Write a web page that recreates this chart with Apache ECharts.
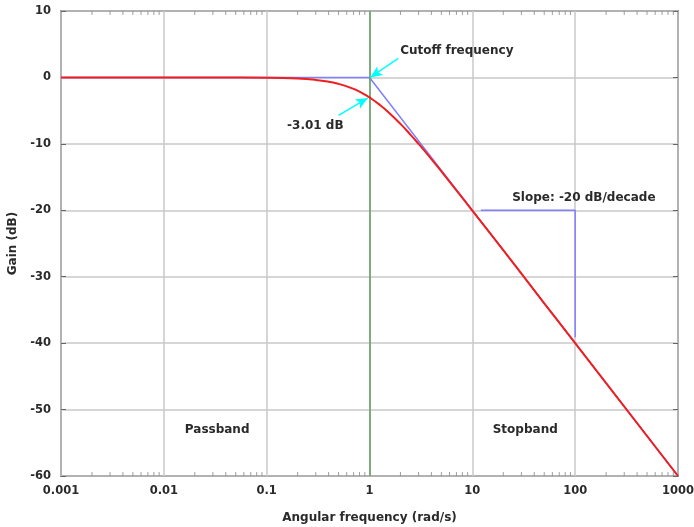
<!DOCTYPE html>
<html><head><meta charset="utf-8">
<script src="https://cdn.jsdelivr.net/npm/echarts@6/dist/echarts.min.js"></script>
<style>html,body{margin:0;padding:0;background:#fff}#c{width:694px;height:527px}</style>
</head><body><div id="c"></div>
<script>
// Frequencies (rad/s) and gain (dB)
const freq = [0.001, 0.01, 0.05, 0.1, 0.2, 0.3, 0.4, 0.5, 0.6, 0.7, 0.8, 0.9, 1, 1.25, 1.5, 2, 2.5, 3, 4, 5, 7, 10, 20, 50, 100, 1000];
const gain = [0, 0, -0.01, -0.04, -0.17, -0.37, -0.64, -0.97, -1.34, -1.73, -2.15, -2.58, -3.01, -4.09, -5.12, -6.99, -8.6, -10.0, -12.3, -14.15, -17.0, -20.04, -26.0, -34.0, -40.0, -60.0];
// Asymptote (blue)
const asymFreq = [0.001, 1, 1000];
const asymGain = [0, 0, -60];
// Slope triangle
const slopeFreq = [12.1, 100, 100];
const slopeGain = [-20, -20, -39.1];
const cutoff = 1;
const xTickLabels = ['0.001', '0.01', '0.1', '1', '10', '100', '1000'];
const yMin = -60, yMax = 10, yStep = 10;
const minorMult = [2, 3, 4, 5, 6, 7, 8, 9];
const decades = [0.001, 0.01, 0.1, 1, 10, 100];

const FONT = 'DejaVu Sans';
const minorBottom = [], minorTop = [];
decades.forEach(d => minorMult.forEach(m => { minorBottom.push([d * m, yMin]); minorTop.push([d * m, yMax]); }));

const zip = (a, b) => a.map((v, i) => [v, b[i]]);
const txt = {fontFamily: FONT, fontWeight: 'bold', fontSize: 12, color: '#2a2a2a'};
const tick = {fontFamily: FONT, fontWeight: 'bold', fontSize: 11.5, color: '#2a2a2a'};

const chart = echarts.init(document.getElementById('c'), null, {renderer: 'canvas'});
chart.setOption({
  animation: false,
  grid: {left: 61, right: 16, top: 11, bottom: 51, show: true, borderColor: '#444', borderWidth: 1.5,
         backgroundColor: '#fff', containLabel: false, outerBoundsMode: 'none'},
  xAxis: {
    type: 'log', logBase: 10, min: 0.001, max: 1000,
    name: 'Angular frequency (rad/s)', nameLocation: 'middle', nameGap: 36,
    nameTextStyle: txt,
    axisLine: {show: false},
    axisTick: {show: false},
    minorTick: {show: false},
    axisLabel: Object.assign({margin: 9, formatter: v => xTickLabels[Math.round(Math.log10(v)) + 3]}, tick),
    splitLine: {show: true, lineStyle: {color: '#c8c8c8', width: 1.5}}
  },
  yAxis: [{
    type: 'value', min: yMin, max: yMax, interval: yStep,
    name: 'Gain (dB)', nameLocation: 'middle', nameGap: 37, nameRotate: 90,
    nameTextStyle: txt,
    axisLine: {show: false},
    axisTick: {show: true, inside: true, length: 5, lineStyle: {color: '#666'}},
    axisLabel: Object.assign({margin: 10}, tick),
    splitLine: {show: true, lineStyle: {color: '#c8c8c8', width: 1.5}}
  }, {
    type: 'value', min: yMin, max: yMax, interval: yStep, position: 'right',
    axisLine: {show: false}, axisLabel: {show: false}, splitLine: {show: false},
    axisTick: {show: true, inside: true, length: 5, lineStyle: {color: '#666'}}
  }],
  series: [
    {type: 'scatter', data: minorBottom, symbol: 'rect', symbolSize: [1, 4], symbolOffset: [0, -2],
     itemStyle: {color: '#888'}, silent: true, clip: false, z: 1},
    {type: 'scatter', data: minorTop, symbol: 'rect', symbolSize: [1, 4], symbolOffset: [0, 2],
     itemStyle: {color: '#888'}, silent: true, clip: false, z: 1},
    {type: 'line', data: zip(slopeFreq, slopeGain), symbol: 'none',
     lineStyle: {color: '#8080ff', width: 1.5}, z: 2},
    {type: 'line', data: zip(asymFreq, asymGain), symbol: 'none',
     lineStyle: {color: '#8080ff', width: 1.5}, z: 2,
     markLine: {silent: true, symbol: 'none', label: {show: false},
       lineStyle: {color: '#5f9f5f', width: 1.5, type: 'solid'},
       data: [{xAxis: cutoff}]}},
    {type: 'line', data: zip(freq, gain), symbol: 'none', smooth: true,
     lineStyle: {color: '#f01e1e', width: 2}, z: 5,
     markLine: {silent: true, symbol: ['none', 'arrow'], symbolSize: [8, 12], label: {show: false},
       lineStyle: {color: '#00ffff', width: 1.5, type: 'solid'},
       data: [
         [{coord: [1.9, 2.86]}, {coord: [1.02, 0]}],
         [{coord: [0.5, -5.7]}, {coord: [0.96, -3.1]}]
       ]},
     markPoint: {silent: true, symbol: 'circle', symbolSize: 0,
       label: Object.assign({show: true, position: [0, 0], align: 'left', verticalAlign: 'middle'}, txt),
       data: [
         {coord: [1.99, 4.06], label: {formatter: 'Cutoff frequency'}},
         {coord: [0.158, -7.23], label: {formatter: '-3.01 dB'}},
         {coord: [24.4, -18.06], label: {formatter: 'Slope: -20 dB/decade'}},
         {coord: [0.033, -53.1], label: {formatter: 'Passband', align: 'center'}},
         {coord: [32.7, -53.1], label: {formatter: 'Stopband', align: 'center'}}
       ]}}
  ]
});
</script></body></html>
